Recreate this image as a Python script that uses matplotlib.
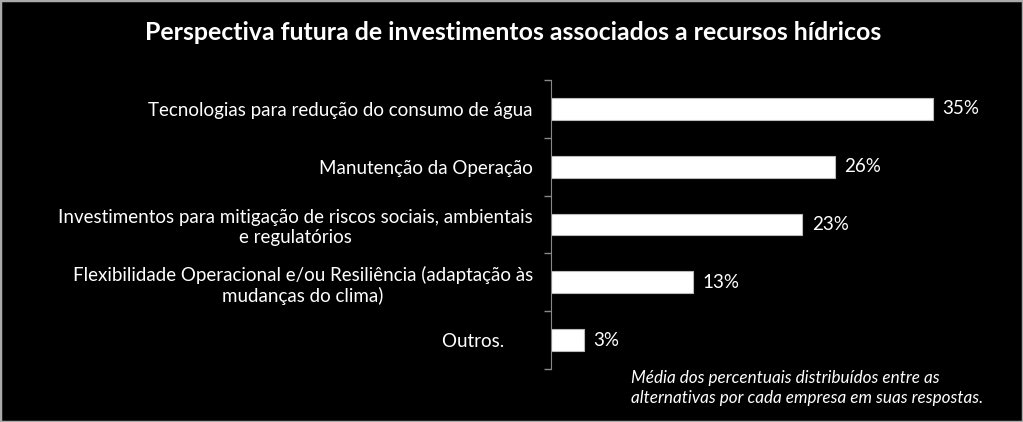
import matplotlib
matplotlib.use("Agg")
import matplotlib.pyplot as plt
from matplotlib.patches import Rectangle

categorias = [
    "Tecnologias para redução do consumo de água",
    "Manutenção da Operação",
    "Investimentos para mitigação de riscos sociais, ambientais\ne regulatórios",
    "Flexibilidade Operacional e/ou Resiliência (adaptação às\nmudanças do clima)",
    "Outros.      ",
]
valores = [35, 26, 23, 13, 3]
rotulos = ["35%", "26%", "23%", "13%", "3%"]

titulo = "Perspectiva futura de investimentos associados a recursos hídricos"
nota = "Média dos percentuais distribuídos entre as\nalternativas por cada empresa em suas respostas."

plt.rcParams["font.family"] = ["Lato", "DejaVu Sans"]

fig = plt.figure(figsize=(10.23, 4.22), dpi=100, facecolor="black")
ax = fig.add_axes([0.5386, 0.1256, 0.4264, 0.6848], facecolor="black")

pos = list(range(len(categorias)))
ax.barh(pos, valores, height=0.38, color="white", edgecolor="#bbbbbb", linewidth=0.8)
ax.set_ylim(len(categorias) - 0.5, -0.5)
ax.set_xlim(0, 40)

for p, v, r in zip(pos, valores, rotulos):
    ax.text(v + 0.9, p, r, color="white", fontsize=13.5, va="center", ha="left")

ax.set_yticks([p - 0.5 for p in pos] + [len(pos) - 0.5])
ax.set_yticklabels([])
ax.set_yticks(pos, minor=True)
ax.set_yticklabels(categorias, minor=True, color="white", fontsize=13.5,
                   multialignment="center")
ax.tick_params(axis="y", which="major", length=5, color="#888888", width=1)
ax.tick_params(axis="y", which="minor", length=0, pad=13)
ax.set_xticks([])

for s in ["top", "right", "bottom"]:
    ax.spines[s].set_visible(False)
ax.spines["left"].set_color("#888888")

fig.text(0.502, 0.924, titulo, color="white", fontsize=17.9, fontweight="bold",
         ha="center", va="center")
fig.text(0.617, 0.081, nota, color="white", fontsize=12.3, style="italic",
         ha="left", va="center", linespacing=1.35)

fig.patches.append(Rectangle((0, 0), 1, 1, transform=fig.transFigure,
                             fill=False, edgecolor="#aaaaaa", linewidth=2.5))

fig.savefig("out.png", dpi=100, facecolor="black")
